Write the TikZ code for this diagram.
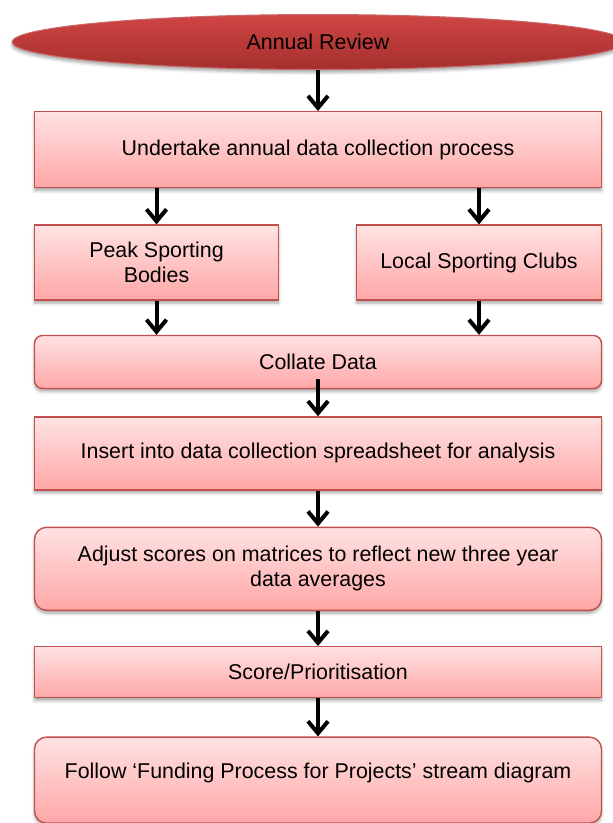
\documentclass[tikz,border=0pt]{standalone}
\usepackage{fontspec}
\setmainfont{Liberation Sans}
\usepackage{xcolor}
\usepackage{tikz}
\usetikzlibrary{positioning,arrows.meta,calc,shapes.geometric,shadows.blur}
\definecolor{ARred}{HTML}{C0504D}
\definecolor{ARredTop}{HTML}{CF4644}
\definecolor{ARredDark}{HTML}{A52F2D}
\definecolor{ARpinkTop}{HTML}{FFE2E2}
\definecolor{ARpinkBottom}{HTML}{FFA7A7}
\tikzset{
  flowbox/.style={draw=ARred, line width=1.4pt, top color=ARpinkTop, bottom color=ARpinkBottom, align=center, font=\fontsize{21.4}{25}\selectfont, text=black, minimum width=567pt, blur shadow={shadow xshift=0pt, shadow yshift=-3pt, shadow blur radius=3pt, shadow opacity=35}},
  roundbox/.style={flowbox, rounded corners=8pt},
  reviewoval/.style={ellipse, draw=ARred!85!white, line width=1pt, top color=ARredTop, bottom color=ARredDark, minimum width=612pt, minimum height=55pt, font=\fontsize{21.4}{25}\selectfont, text=black, blur shadow={shadow xshift=0pt, shadow yshift=-3pt, shadow blur radius=3pt, shadow opacity=35}},
  flowarr/.style={-{Straight Barb[length=12pt, width=20pt]}, line width=4pt, draw=black}
}

\begin{document}
\begin{tikzpicture}[x=1pt, y=1pt]
  \useasboundingbox (0,0) rectangle (613,-823);
  \node[reviewoval] (review) at (318,-42) {Annual Review};
  \node[flowbox, minimum height=76pt, below=41pt of review] (collect) {Undertake annual data collection process};
  \node[flowbox, minimum width=244pt, minimum height=75pt, below=36pt of collect.south west, anchor=north west] (peak) {Peak Sporting\\Bodies};
  \node[flowbox, minimum width=245pt, minimum height=75pt, below=36pt of collect.south east, anchor=north east] (local) {Local Sporting Clubs};
  \node[roundbox, minimum height=53pt, below=34pt of peak.south west, anchor=north west] (collate) {Collate Data};
  \node[flowbox, minimum height=73pt, below=27pt of collate] (insert) {Insert into data collection spreadsheet for analysis};
  \node[roundbox, rounded corners=12pt, minimum height=83pt, below=36pt of insert] (adjust) {Adjust scores on matrices to reflect new three year\\data averages};
  \node[flowbox, minimum height=51pt, below=35pt of adjust] (score) {Score/Prioritisation};
  \node[roundbox, rounded corners=12pt, minimum height=86pt, text depth=19pt, below=38pt of score] (follow) {Follow `Funding Process for Projects' stream diagram};
  \draw[flowarr] (review) -- (collect);
  \draw[flowarr] (peak.north |- collect.south) -- (peak);
  \draw[flowarr] (local.north |- collect.south) -- (local);
  \draw[flowarr] (peak) -- (peak.south |- collate.north);
  \draw[flowarr] (local) -- (local.south |- collate.north);
  \draw[flowarr] ([yshift=10pt]collate.south) -- (insert);
  \draw[flowarr] (insert) -- (adjust);
  \draw[flowarr] (adjust) -- (score);
  \draw[flowarr] (score) -- (follow);
\end{tikzpicture}
\end{document}
